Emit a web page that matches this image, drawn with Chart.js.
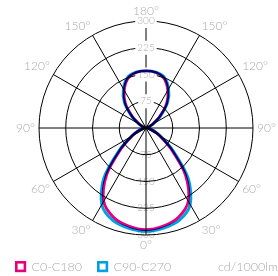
<!DOCTYPE html>
<html>
<head>
<meta charset="utf-8">
<script src="https://cdn.jsdelivr.net/npm/chart.js@4.4.1/dist/chart.umd.min.js"></script>
<style>
  html, body { margin: 0; padding: 0; background: #fff; }
  #wrap { width: 278px; height: 276px; }
</style>
</head>
<body>
<div id="wrap"><canvas id="polar" width="278" height="276"></canvas></div>
<script>
// gamma angle (deg) and intensity in cd/1000lm
const gammaAngles = [0, 10, 20, 30, 40, 50, 60, 70, 80, 90, 100, 110, 120, 130, 140, 150, 160, 170, 180];
const c0c180  = [285, 279, 266, 237, 172, 92, 45, 22, 8, 3, 3, 8, 22, 50, 90, 122, 148, 158, 160];
const c90c270 = [290, 285, 275, 248, 185, 100, 49, 24, 9, 3, 3, 8, 24, 54, 95, 127, 151, 159, 160];
const ringTicks = [0, 75, 150, 225, 300];
const unitLabel = 'cd/1000lm';

const textGrey = '#ababab';
const magenta = '#e5007e';
const cyan = '#00a0e3';

// around the dial, clockwise from the top: 180 down to 0 on the right, back up to 170 on the left
const dial = [...gammaAngles.slice().reverse(), ...gammaAngles.slice(1, -1)];
const valuesFor = (series) => dial.map(g => series[gammaAngles.indexOf(g)]);

const fontFam = "Lato, 'Open Sans', sans-serif";

// angle labels drawn outside the outer ring
const angleLabelPlugin = {
    id: 'angleLabels',
    afterDraw(chart) {
        const s = chart.scales.r;
        const ctx = chart.ctx;
        ctx.save();
        ctx.font = '300 12px ' + fontFam;
        ctx.fillStyle = textGrey;
        chart.data.labels.forEach((lab, i) => {
            if (dial[i] % 30 !== 0) return;
            const p = s.getPointPosition(i, s.drawingArea + 4);
            const deg = Math.round(s.getIndexAngle(i) * 180 / Math.PI) % 360;
            ctx.textAlign = (deg === 0 || deg === 180) ? 'center' : (deg < 180 ? 'left' : 'right');
            ctx.textBaseline = (deg === 90 || deg === 270) ? 'middle' : ((deg < 90 || deg > 270) ? 'bottom' : 'top');
            ctx.fillText(lab, p.x, p.y);
        });
        ctx.restore();
    }
};

// tick values repeated on the lower spoke
const lowerTicksPlugin = {
    id: 'lowerTicks',
    beforeDatasetsDraw(chart) {
        const s = chart.scales.r;
        const ctx = chart.ctx;
        ctx.save();
        ctx.font = '300 10px ' + fontFam;
        ctx.textAlign = 'center';
        ctx.textBaseline = 'middle';
        s.ticks.forEach(t => {
            if (t.value === 0) return;
            const off = s.getDistanceFromCenterForValue(t.value);
            const w = ctx.measureText(t.label).width;
            ctx.fillStyle = '#fff';
            ctx.fillRect(s.xCenter - w / 2 - 2, s.yCenter + off - 5 - 2, w + 4, 14);
            ctx.fillStyle = textGrey;
            ctx.fillText(t.label, s.xCenter, s.yCenter + off);
        });
        ctx.restore();
    }
};

// overlapping curves mix like ink
const multiplyPlugin = {
    id: 'multiply',
    beforeDatasetsDraw(chart) {
        chart.ctx.save();
        chart.ctx.globalCompositeOperation = 'multiply';
    },
    afterDatasetsDraw(chart) {
        chart.ctx.restore();
    }
};

// legend row at the bottom
const legendRowPlugin = {
    id: 'legendRow',
    afterDraw(chart) {
        const ctx = chart.ctx;
        const xs = [15, 97];
        const y = 261;
        ctx.save();
        ctx.font = '300 12.5px ' + fontFam;
        ctx.textBaseline = 'middle';
        chart.data.datasets.forEach((ds, i) => {
            ctx.lineWidth = 2.6;
            ctx.strokeStyle = ds.borderColor;
            ctx.strokeRect(xs[i] + 1.3, y + 1.3, 8.6, 8.6);
            ctx.fillStyle = textGrey;
            ctx.textAlign = 'left';
            ctx.fillText(ds.label, xs[i] + 16.5, y + 6);
        });
        ctx.textAlign = 'right';
        ctx.fillText(unitLabel, 278, y + 6);
        ctx.restore();
    }
};

new Chart(document.getElementById('polar'), {
    type: 'radar',
    data: {
        labels: dial.map(g => g + '°'),
        datasets: [
            {
                label: 'C0-C180',
                data: valuesFor(c0c180),
                borderColor: magenta,
                backgroundColor: 'transparent',
                borderWidth: 2.8,
                fill: false,
                tension: 0.3,
                pointRadius: 0,
            },
            {
                label: 'C90-C270',
                data: valuesFor(c90c270),
                borderColor: cyan,
                backgroundColor: 'transparent',
                borderWidth: 2.8,
                fill: false,
                tension: 0.3,
                pointRadius: 0,
            }
        ]
    },
    options: {
        responsive: false,
        animation: false,
        layout: { padding: { top: 14, bottom: 34, left: 14, right: 0 } },
        plugins: {
            legend: { display: false },
            tooltip: { enabled: false }
        },
        scales: {
            r: {
                min: ringTicks[0],
                max: ringTicks[ringTicks.length - 1],
                ticks: {
                    stepSize: ringTicks[1] - ringTicks[0],
                    color: textGrey,
                    font: { family: fontFam, size: 10, weight: 300 },
                    backdropColor: '#fff',
                    backdropPadding: 2,
                    showLabelBackdrop: true,
                },
                grid: { circular: true, color: '#000', lineWidth: 1 },
                angleLines: {
                    color: '#000',
                    lineWidth: (c) => dial[c.index] % 30 === 0 ? 1 : 0,
                },
                pointLabels: { display: false },
            }
        }
    },
    plugins: [multiplyPlugin, lowerTicksPlugin, angleLabelPlugin, legendRowPlugin]
});
</script>
</body>
</html>
